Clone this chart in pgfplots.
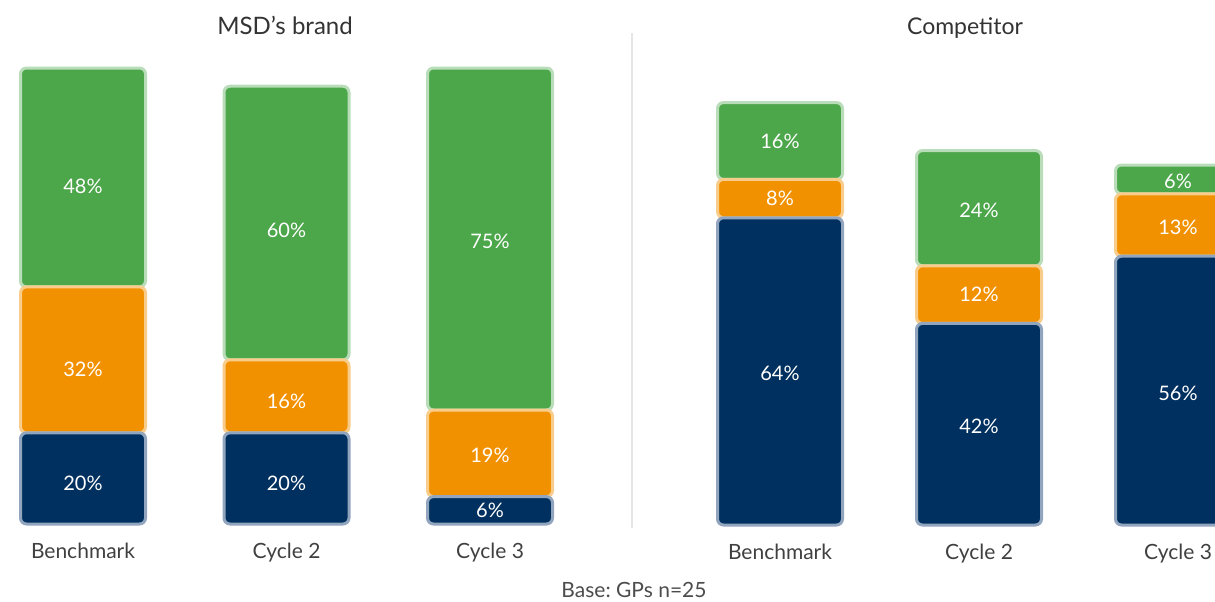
\documentclass[border=0pt]{standalone}
\usepackage{fontspec}
\setmainfont{Lato}
\usepackage{pgfplots}
\pgfplotsset{compat=1.18}
\frenchspacing
\definecolor{navy}{HTML}{00305F}
\definecolor{navyb}{HTML}{91A5BE}
\definecolor{orng}{HTML}{F29100}
\definecolor{orngb}{HTML}{F8CD8C}
\definecolor{grn}{HTML}{4CA64A}
\definecolor{grnb}{HTML}{B9DCB9}
\definecolor{txt}{HTML}{404040}
\pgfplotsset{
  barax/.style={
    ybar stacked, bar width=62.5pt, clip=false,
    xmin=-0.5, xmax=2.5, ymin=0, ymax=100,
    axis line style={draw=none}, major tick length=0pt,
    ytick=\empty, xtick={0,1,2},
    xticklabels={Benchmark,Cycle 2,Cycle 3},
    xticklabel style={anchor=base, yshift=-17pt, text=txt, font=\fontsize{10.5}{12}\selectfont},
    anchor=origin,
  },
  labax/.style={
    clip=false, xmin=-0.5, xmax=2.5, ymin=0, ymax=100,
    hide axis, anchor=origin,
    nodes near coords, point meta=explicit symbolic,
    every node near coord/.style={anchor=center, text=white, font=\fontsize{10}{12}\selectfont},
  },
  seg/.style={line width=1.5pt, rounded corners=3pt},
}
\begin{document}
\begin{tikzpicture}
\useasboundingbox (0,0) rectangle (607.5pt,300.5pt);
% left panel
\begin{axis}[barax, x=101.75pt, y=2.28pt, at={(41.5pt,38.5pt)}]
\addplot[seg, fill=navy, draw=navyb] coordinates {(0,20) (1,20) (2,6)};
\addplot[seg, fill=orng, draw=orngb] coordinates {(0,32) (1,16) (2,19)};
\addplot[seg, fill=grn, draw=grnb] coordinates {(0,48) (1,60) (2,75)};
\end{axis}
\begin{axis}[labax, x=101.75pt, y=2.28pt, at={(41.5pt,38.5pt)}]
\addplot[draw=none, mark=none] coordinates {(0,9)[20\%] (1,9)[20\%] (2,3)[6\%]};
\addplot[draw=none, mark=none] coordinates {(0,34)[32\%] (1,27)[16\%] (2,15)[19\%]};
\addplot[draw=none, mark=none] coordinates {(0,74)[48\%] (1,64.5)[60\%] (2,62)[75\%]};
\end{axis}
% right panel
\begin{axis}[barax, x=99.5pt, y=2.4pt, at={(390pt,38pt)}]
\addplot[seg, fill=navy, draw=navyb] coordinates {(0,64) (1,42) (2,56)};
\addplot[seg, fill=orng, draw=orngb] coordinates {(0,8) (1,12) (2,13)};
\addplot[seg, fill=grn, draw=grnb] coordinates {(0,16) (1,24) (2,6)};
\end{axis}
\begin{axis}[labax, x=99.5pt, y=2.4pt, at={(390pt,38pt)}]
\addplot[draw=none, mark=none] coordinates {(0,31.5)[64\%] (1,20.5)[42\%] (2,27.5)[56\%]};
\addplot[draw=none, mark=none] coordinates {(0,68)[8\%] (1,48)[12\%] (2,62)[13\%]};
\addplot[draw=none, mark=none] coordinates {(0,80)[16\%] (1,65.5)[24\%] (2,71.5)[6\%]};
\end{axis}
% separator, titles, base
\draw[color=black!10, line width=0.75pt] (316pt,284pt) -- (316pt,36.5pt);
\node[text=black!80, font=\fontsize{12}{14}\selectfont, anchor=base] at (142.5pt,283pt) {MSD’s brand};
\node[text=black!80, font=\fontsize{11.5}{13}\selectfont, anchor=base] at (482.5pt,283pt) {Competitor};
\node[text=black!70, font=\fontsize{10.5}{12}\selectfont, anchor=base] at (317pt,2pt) {Base: GPs n=25};
\end{tikzpicture}
\end{document}
